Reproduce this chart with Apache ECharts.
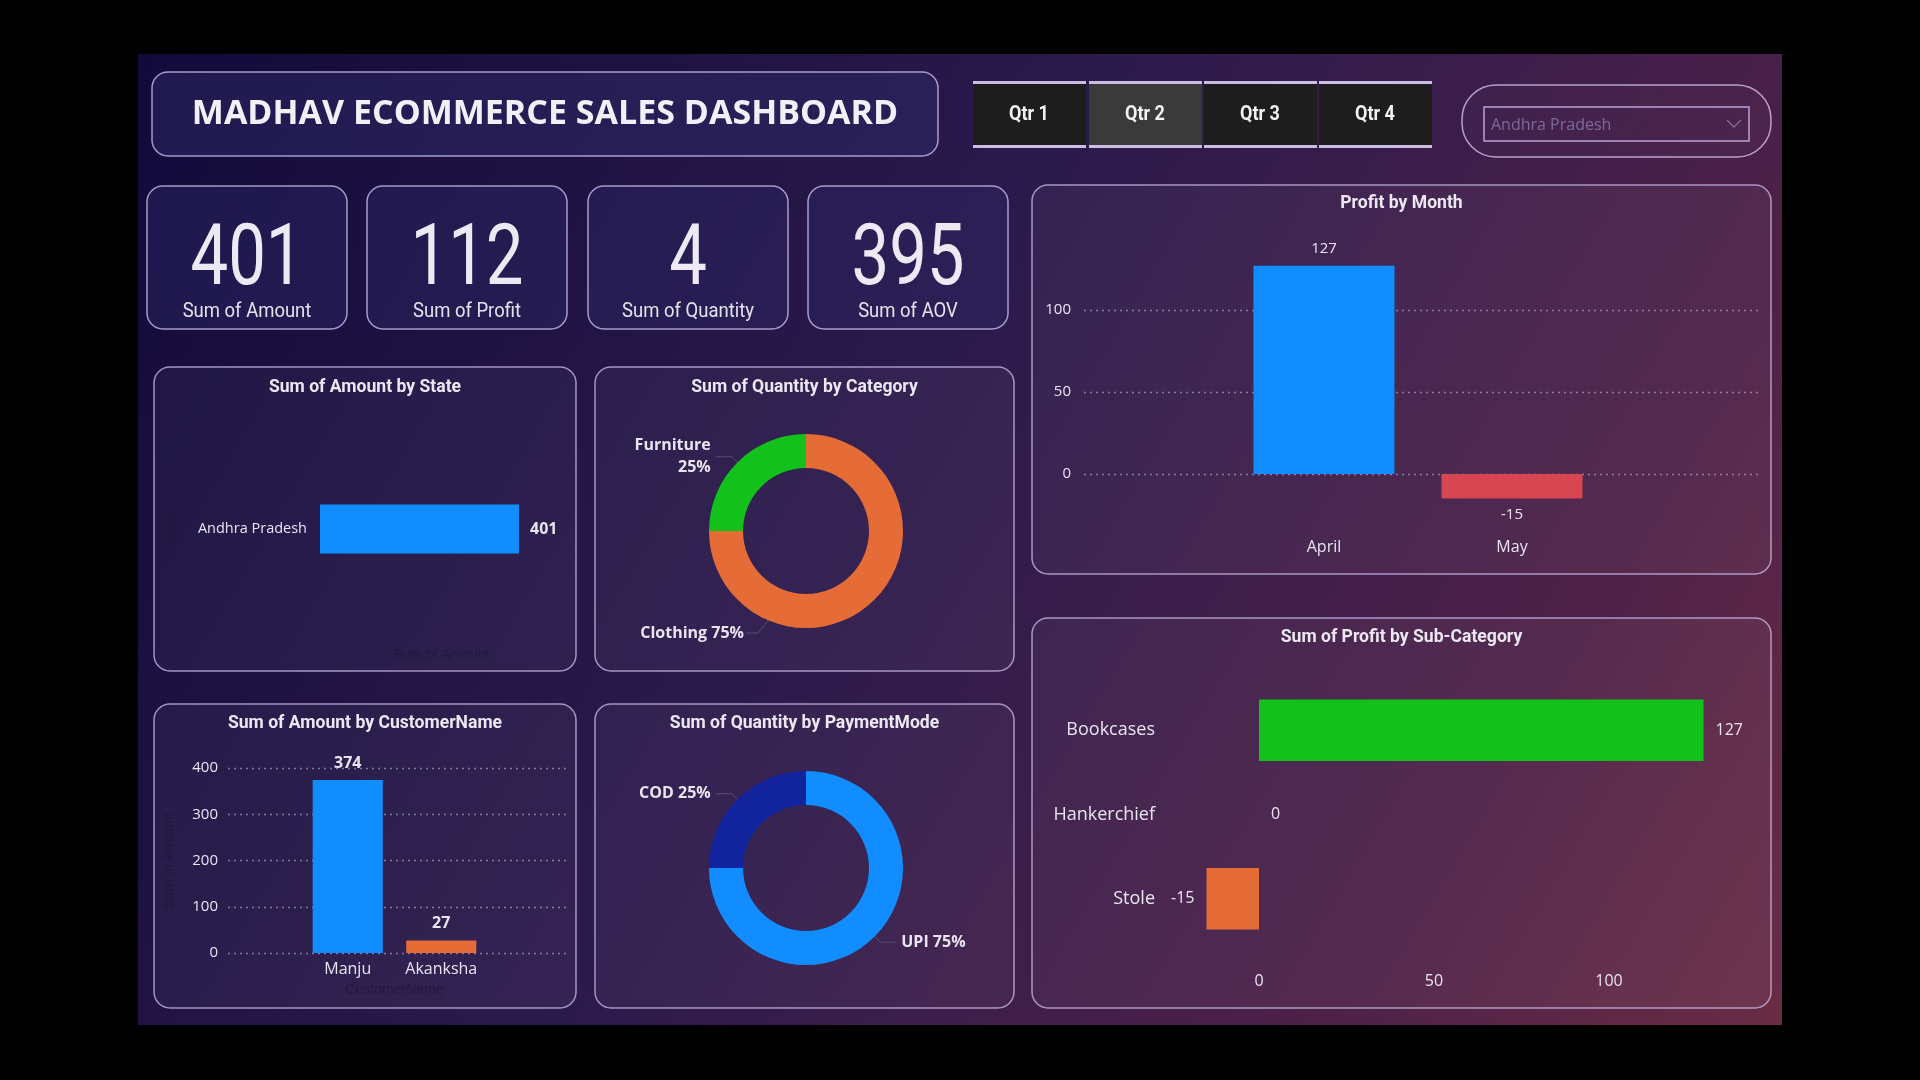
<!DOCTYPE html>
<html><head><meta charset="utf-8">
<script src="https://cdn.jsdelivr.net/npm/echarts@6/dist/echarts.min.js"></script>
<style>html,body{margin:0;padding:0;background:#000;overflow:hidden}#c{width:1920px;height:1080px}</style>
</head><body><div id="c"></div>
<script>
// ---------- data ----------
const dashboardTitle = 'MADHAV ECOMMERCE SALES DASHBOARD';
const quarterLabels = ['Qtr 1', 'Qtr 2', 'Qtr 3', 'Qtr 4'];
const selectedQuarter = 'Qtr 2';
const stateFilter = 'Andhra Pradesh';
const kpiLabels = ['Sum of Amount', 'Sum of Profit', 'Sum of Quantity', 'Sum of AOV'];
const kpiValues = [401, 112, 4, 395];
const states = ['Andhra Pradesh'];
const amountByState = [401];
const categories = ['Clothing', 'Furniture'];
const quantityByCategory = [3, 1];
const months = ['April', 'May'];
const profitByMonth = [127, -15];
const customers = ['Manju', 'Akanksha'];
const amountByCustomer = [374, 27];
const paymentModes = ['UPI', 'COD'];
const quantityByPayment = [3, 1];
const subCategories = ['Bookcases', 'Hankerchief', 'Stole'];
const profitBySubCategory = [127, 0, -15];
const chartTitles = ['Sum of Amount by State', 'Sum of Quantity by Category', 'Profit by Month',
  'Sum of Amount by CustomerName', 'Sum of Quantity by PaymentMode', 'Sum of Profit by Sub-Category'];

// ---------- styles ----------
const BLUE = '#118DFF', DARKBLUE = '#12239E', ORANGE = '#E66C37', GREEN = '#12C11A', RED = '#D64550';
const TXT = '#e9e5f0';
const FAINT = 'rgba(30,20,50,0.55)';
const GRIDLINE = { color: 'rgba(205,195,232,0.55)', width: 1.3, type: [2, 4] };
const categoryColors = [ORANGE, GREEN];
const paymentColors = [BLUE, DARKBLUE];
const customerColors = [BLUE, ORANGE];
const subCatColors = [GREEN, BLUE, ORANGE];
const TITLE_FONT = 'bold 18.5px Roboto, "DejaVu Sans", sans-serif';
const NUM_FONT = 'Roboto, sans-serif';
const UI_FONT = '"Open Sans", "Noto Sans", sans-serif';

const chart = echarts.init(document.getElementById('c'));

// ---------- layout (px) ----------
const kpiX = [147, 367, 588, 808];
const cards = [
  [154, 367, 422, 304], [595, 367, 419, 304], [1032, 185, 739, 389],
  [154, 704, 422, 304], [595, 704, 419, 304], [1032, 618, 739, 390]
];
const titleY = [387, 387, 203, 723, 723, 637];
const btnX = [973, 1089, 1204, 1319];

const g = [];
g.push({ type: 'rect', z: -10, shape: { x: 138, y: 54, width: 1644, height: 971 },
  style: { fill: new echarts.graphic.LinearGradient(0, 0, 1, 1, [
    { offset: 0, color: '#110a3a' }, { offset: 0.45, color: '#2c1a4c' }, { offset: 0.8, color: '#4e2148' }, { offset: 1, color: '#6a2c45' }]) } });
// title box
g.push({ type: 'rect', z: -5, shape: { x: 152, y: 72, width: 786, height: 84, r: 16 },
  style: { fill: 'rgba(45,40,100,0.55)', stroke: 'rgba(200,188,235,0.8)', lineWidth: 1.5 } });
g.push({ type: 'text', z: 5, x: 545, y: 114, style: { text: dashboardTitle, fill: '#f2f0f6', font: 'bold 34px ' + UI_FONT, align: 'center', verticalAlign: 'middle' } });
// quarter buttons
quarterLabels.forEach((q, i) => {
  g.push({ type: 'rect', z: -5, shape: { x: btnX[i], y: 81, width: 113, height: 67 },
    style: { fill: q === selectedQuarter ? '#3a3a3a' : '#1d1d1d' } });
  g.push({ type: 'rect', z: -4, shape: { x: btnX[i], y: 81, width: 113, height: 3 }, style: { fill: '#cbbde2' } });
  g.push({ type: 'rect', z: -4, shape: { x: btnX[i], y: 145, width: 113, height: 3 }, style: { fill: '#cbbde2' } });
  g.push({ type: 'text', z: 5, x: btnX[i] + 56, y: 115, scaleX: 0.9, style: { text: q, fill: '#f2f2f2', font: 'bold 20px Roboto, sans-serif', align: 'center', verticalAlign: 'middle' } });
});
// dropdown
g.push({ type: 'rect', z: -5, shape: { x: 1462, y: 85, width: 309, height: 72, r: 34 },
  style: { fill: 'rgba(255,255,255,0.02)', stroke: 'rgba(210,195,240,0.8)', lineWidth: 1.5 } });
g.push({ type: 'rect', z: -4, shape: { x: 1484, y: 107, width: 265, height: 34 },
  style: { fill: 'transparent', stroke: '#b9a2d6', lineWidth: 1.5 } });
g.push({ type: 'text', z: 5, x: 1491, y: 125, style: { text: stateFilter, fill: '#7c6a9c', font: '16px ' + UI_FONT, align: 'left', verticalAlign: 'middle' } });
g.push({ type: 'polyline', z: 5, shape: { points: [[1727, 120], [1734, 127], [1741, 120]] }, style: { stroke: '#7c6a9c', lineWidth: 1.3, fill: null } });
// KPI cards
kpiLabels.forEach((lab, i) => {
  g.push({ type: 'rect', z: -5, shape: { x: kpiX[i], y: 186, width: 200, height: 143, r: 16 },
    style: { fill: 'rgba(45,40,100,0.45)', stroke: 'rgba(200,188,235,0.8)', lineWidth: 1.5 } });
  g.push({ type: 'text', z: 5, x: kpiX[i] + 100, y: 262, scaleX: 0.78, style: { text: String(kpiValues[i]), fill: '#ece9f3', font: '86px ' + NUM_FONT, align: 'center', verticalAlign: 'middle' } });
  g.push({ type: 'text', z: 5, x: kpiX[i] + 100, y: 312, scaleX: 0.88, style: { text: lab, fill: '#e6e2ee', font: '21px ' + NUM_FONT, align: 'center', verticalAlign: 'middle' } });
});
// chart cards
cards.forEach((c, i) => {
  g.push({ type: 'rect', z: -5, shape: { x: c[0], y: c[1], width: c[2], height: c[3], r: 16 },
    style: { fill: 'rgba(255,255,255,0.045)', stroke: 'rgba(205,190,235,0.75)', lineWidth: 1.5 } });
  g.push({ type: 'text', z: 5, x: c[0] + c[2] / 2, y: titleY[i], scaleX: 0.95, style: { text: chartTitles[i], fill: '#ece8f2', font: TITLE_FONT, align: 'center', verticalAlign: 'middle' } });
});

const hiddenVal = (gi, min, max) => ({ type: 'value', gridIndex: gi, min, max, show: false });
const lbl = (sz, extra) => Object.assign({ color: TXT, fontSize: sz, fontFamily: UI_FONT }, extra || {});

// pie geometry
const catCenter = [806, 531], payCenter = [806, 868];
const RIN = 63, ROUT = 97;

const option = {
  backgroundColor: '#000',
  animation: false,
  graphic: { elements: g },
  grid: [
    { left: 320, width: 199, top: 470, height: 118 },            // 0 state
    { left: 1084, width: 676, top: 228, height: 328 },           // 1 month axis
    { left: 1230, width: 376, top: 228, height: 328 },           // 2 month bars
    { left: 228, width: 338, top: 768, height: 185 },            // 3 customer axis
    { left: 301, width: 187, top: 768, height: 185 },            // 4 customer bars
    { left: 1084, width: 700, top: 688, height: 253 }            // 5 sub-category
  ],
  xAxis: [
    { type: 'value', gridIndex: 0, min: 0, max: 401, axisLine: { show: false }, axisTick: { show: false }, axisLabel: { show: false }, splitLine: { show: false },
      name: 'Sum of Amount', nameLocation: 'middle', nameGap: 60, nameTextStyle: { color: FAINT, fontSize: 14, padding: [0, 0, 0, 44] } },
    hiddenVal(1, 0, 1),
    { type: 'category', gridIndex: 2, data: months, axisLine: { show: false, onZero: false }, axisTick: { show: false }, axisLabel: lbl(16, { margin: -17, interval: 0 }) },
    hiddenVal(3, 0, 1),
    { type: 'category', gridIndex: 4, data: customers, axisLine: { show: false, onZero: false }, axisTick: { show: false }, axisLabel: lbl(16, { margin: 8, interval: 0 }),
      name: 'CustomerName', nameLocation: 'middle', nameGap: 30, nameTextStyle: { color: FAINT, fontSize: 14 } },
    { type: 'value', gridIndex: 5, min: -50, max: 150, interval: 50, axisLine: { show: false }, axisTick: { show: false }, splitLine: { show: false },
      axisLabel: lbl(16, { margin: 32, showMinLabel: false, showMaxLabel: false }) }
  ],
  yAxis: [
    { type: 'category', gridIndex: 0, data: states, axisLine: { show: false }, axisTick: { show: false }, axisLabel: lbl(14.5, { margin: 13 }),
      name: 'State', nameLocation: 'middle', nameGap: 140, nameTextStyle: { color: FAINT, fontSize: 14 } },
    { type: 'value', gridIndex: 1, min: -50, max: 150, interval: 50, axisLine: { show: false }, axisTick: { show: false },
      axisLabel: lbl(15, { margin: 13, showMinLabel: false, showMaxLabel: false }),
      splitLine: { show: true, lineStyle: Object.assign({}, GRIDLINE, { color: ['rgba(0,0,0,0)', GRIDLINE.color, GRIDLINE.color, GRIDLINE.color, 'rgba(0,0,0,0)'] }) } },
    hiddenVal(2, -50, 150),
    { type: 'value', gridIndex: 3, min: 0, max: 400, interval: 100, axisLine: { show: false }, axisTick: { show: false },
      axisLabel: lbl(15, { margin: 10 }), splitLine: { show: true, lineStyle: GRIDLINE },
      name: 'Sum of Amount', nameLocation: 'middle', nameGap: 52, nameRotate: 90, nameTextStyle: { color: FAINT, fontSize: 14 } },
    hiddenVal(4, 0, 400),
    { type: 'category', gridIndex: 5, data: subCategories, inverse: true, axisLine: { show: false, onZero: false }, axisTick: { show: false },
      axisLabel: lbl(18, { margin: -71, interval: 0 }) }
  ],
  series: [
    { type: 'bar', xAxisIndex: 0, yAxisIndex: 0, data: amountByState, barWidth: 49, itemStyle: { color: BLUE },
      label: { show: true, position: 'right', distance: 11, color: TXT, fontWeight: 'bold', fontSize: 16, fontFamily: UI_FONT } },
    { type: 'bar', xAxisIndex: 2, yAxisIndex: 2, barWidth: '75%',
      data: profitByMonth.map(v => ({ value: v, itemStyle: { color: v >= 0 ? BLUE : RED }, label: { position: v >= 0 ? 'top' : 'bottom' } })),
      label: { show: true, distance: 9, color: TXT, fontSize: 15, fontFamily: UI_FONT } },
    { type: 'bar', xAxisIndex: 4, yAxisIndex: 4, barWidth: '75%',
      data: amountByCustomer.map((v, i) => ({ value: v, itemStyle: { color: customerColors[i] } })),
      label: { show: true, position: 'top', distance: 9, color: TXT, fontWeight: 'bold', fontSize: 16, fontFamily: UI_FONT } },
    { type: 'bar', xAxisIndex: 5, yAxisIndex: 5, barWidth: '73%',
      data: profitBySubCategory.map((v, i) => ({ value: v, itemStyle: { color: subCatColors[i] }, label: { position: v >= 0 ? 'right' : 'left' } })),
      label: { show: true, distance: 12, color: TXT, fontSize: 16, fontFamily: UI_FONT } },
    { type: 'pie', center: catCenter, radius: [RIN, ROUT], startAngle: 90, clockwise: true,
      data: categories.map((n, i) => ({ name: n, value: quantityByCategory[i], itemStyle: { color: categoryColors[i] },
        label: { formatter: quantityByCategory[i] / quantityByCategory.reduce((a, b) => a + b, 0) < 0.5 ? '{b}\n{d}%' : '{b} {d}%' } })),
      label: { color: TXT, fontWeight: 'bold', fontSize: 16, fontFamily: UI_FONT, align: 'right', lineHeight: 22 },
      labelLine: { length: 8, length2: 16, lineStyle: { color: 'rgba(95,80,120,0.9)', width: 1 } },
      labelLayout: function (p) {
        if (p.dataIndex === 0) {
          const cx = catCenter[0], cy = catCenter[1];
          const sx = cx - ROUT * 0.39, sy = cy + ROUT * 0.92;
          return { x: cx - 62, y: cy + 102, align: 'right', verticalAlign: 'middle',
            labelLinePoints: [[sx, sy], [sx - 10, cy + 102], [cx - 60, cy + 102]] };
        }
      } },
    { type: 'pie', center: payCenter, radius: [RIN, ROUT], startAngle: 90, clockwise: true,
      data: paymentModes.map((n, i) => ({ name: n, value: quantityByPayment[i], itemStyle: { color: paymentColors[i] } })),
      label: { color: TXT, fontWeight: 'bold', fontSize: 16, fontFamily: UI_FONT, formatter: '{b} {d}%' },
      labelLine: { length: 8, length2: 16, lineStyle: { color: 'rgba(95,80,120,0.9)', width: 1 } } }
  ]
};
chart.setOption(option);
</script></body></html>
